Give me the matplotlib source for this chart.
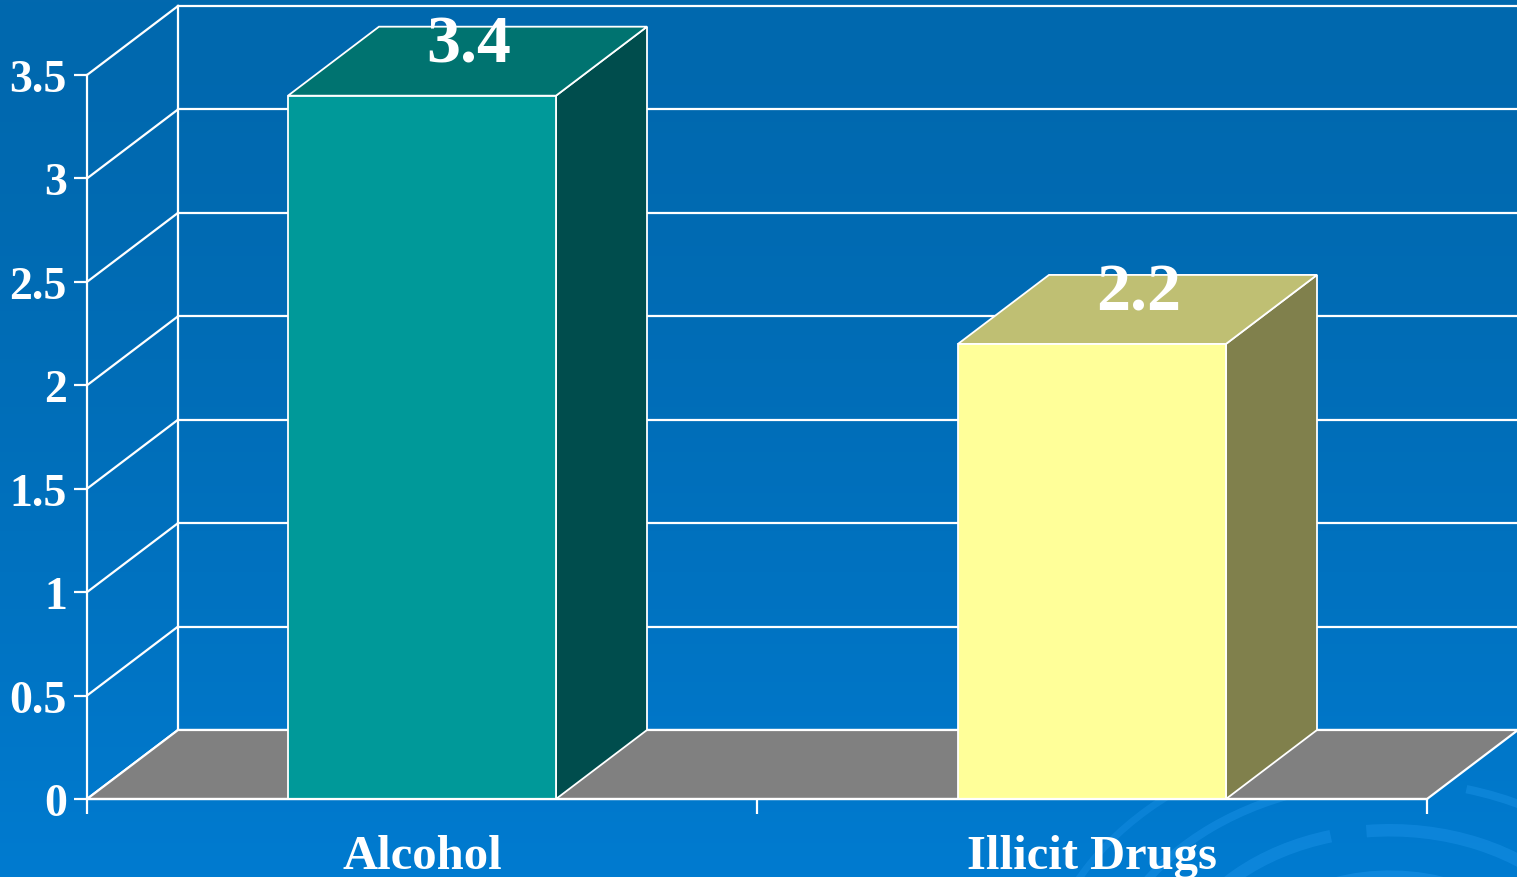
import numpy as np
import matplotlib.pyplot as plt
from matplotlib.patches import Polygon, Arc

categories = ["Alcohol", "Illicit Drugs"]
values = [3.4, 2.2]
front_colors = ["#009999", "#FFFF99"]
top_colors = ["#007370", "#BFBF73"]
side_colors = ["#004D4D", "#80804C"]
y_ticks = [0, 0.5, 1, 1.5, 2, 2.5, 3, 3.5]
y_tick_labels = ["0", "0.5", "1", "1.5", "2", "2.5", "3", "3.5"]

W, H = 1517, 878
fig = plt.figure(figsize=(W / 100, H / 100), dpi=100)
serif = ["Liberation Serif", "DejaVu Serif"]

# blue slide background with faint rings in the lower right
bg = fig.add_axes([0, 0, 1, 1])
top = np.array([1, 104, 174]) / 255
bottom = np.array([0, 123, 208]) / 255
t = np.linspace(0, 1, 256)[:, None, None] ** 1.5
bg.imshow(top + (bottom - top) * t, aspect="auto", extent=[0, W, H, 0])
for r, lw, a, (t1, t2) in [(110, 10, 0.35, (190, 350)),
                           (165, 7, 0.35, (200, 300)),
                           (165, 7, 0.35, (310, 345)),
                           (225, 9, 0.3, (195, 250)),
                           (225, 9, 0.3, (262, 330)),
                           (290, 6, 0.3, (185, 280)),
                           (290, 6, 0.3, (290, 320)),
                           (350, 5, 0.25, (200, 240))]:
    bg.add_patch(Arc((1390, 1000), 2 * r, 1.5 * r, theta1=t1, theta2=t2,
                     color="#2aa0f5", lw=lw, alpha=a))
bg.set_xlim(0, W)
bg.set_ylim(H, 0)
bg.axis("off")

ax = fig.add_axes([87 / W, 78 / H, 1340 / W, 724 / H])
ax.patch.set_alpha(0)
ax.set_xlim(-0.5, 1.5)
ax.set_ylim(0, 3.5)

# depth offset of the pseudo-3D box, in data units
dx = 91 / 670
dy = 69 / (724 / 3.5)
lc = "white"
lw = 1.6

# back wall and left side wall grid
ax.plot([-0.5 + dx, -0.5 + dx], [dy, 3.5 + dy], color=lc, lw=lw, clip_on=False, zorder=1)
for yt in y_ticks:
    ax.plot([-0.5 + dx, 1.5 + dx], [yt + dy, yt + dy], color=lc, lw=lw, clip_on=False, zorder=1)
    ax.plot([-0.5, -0.5 + dx], [yt, yt + dy], color=lc, lw=lw, clip_on=False, zorder=1)

# floor
ax.add_patch(Polygon([(-0.5, 0), (-0.5 + dx, dy), (1.5 + dx, dy), (1.5, 0)],
                     closed=True, facecolor="#808080", edgecolor=lc, lw=lw,
                     clip_on=False, zorder=2))

# bars
hw = 0.2
for i, v in enumerate(values):
    x0, x1 = i - hw, i + hw
    front = [(x0, 0), (x0, v), (x1, v), (x1, 0)]
    top_face = [(x0, v), (x0 + dx, v + dy), (x1 + dx, v + dy), (x1, v)]
    side = [(x1, 0), (x1 + dx, dy), (x1 + dx, v + dy), (x1, v)]
    for pts, c in [(side, side_colors[i]), (top_face, top_colors[i]), (front, front_colors[i])]:
        ax.add_patch(Polygon(pts, closed=True, facecolor=c, edgecolor=lc,
                             lw=1.3, clip_on=False, zorder=3))
    ax.text(i + dx / 2 + 0.002, v + 0.245, f"{v:g}", ha="center", va="center",
            color="white", fontsize=49, fontweight="bold", family=serif,
            clip_on=False, zorder=5)

# axes, ticks and labels
for s in ["top", "right"]:
    ax.spines[s].set_visible(False)
for s in ["left", "bottom"]:
    ax.spines[s].set_color(lc)
    ax.spines[s].set_linewidth(lw)
    ax.spines[s].set_zorder(4)

ax.set_yticks(y_ticks)
ax.set_yticklabels(y_tick_labels)
ax.tick_params(axis="y", direction="out", length=9.5, width=lw, color=lc,
               pad=5, labelcolor="white", labelsize=33)
ax.set_xticks([0, 1])
ax.set_xticklabels(categories)
ax.set_xticks([-0.5, 0.5, 1.5], minor=True)
ax.tick_params(axis="x", which="major", length=0, pad=25,
               labelcolor="white", labelsize=35)
ax.tick_params(axis="x", which="minor", direction="out", length=11,
               width=lw, color=lc)
for lab in ax.get_xticklabels() + ax.get_yticklabels():
    lab.set_family(serif)
    lab.set_fontweight("bold")

fig.savefig("out.png", dpi=100)
